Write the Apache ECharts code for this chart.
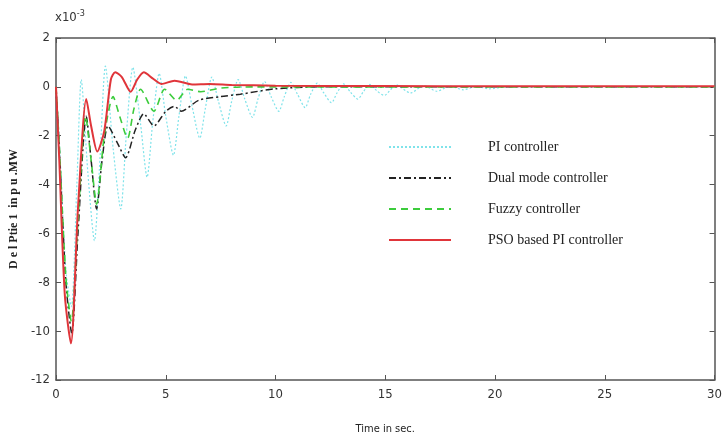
<!DOCTYPE html>
<html>
<head>
<meta charset="utf-8">
<script src="https://cdn.jsdelivr.net/npm/echarts@6/dist/echarts.min.js"></script>
<style>
html, body { margin: 0; padding: 0; background: #fff; }
#chart { width: 725px; height: 440px; }
</style>
</head>
<body>
<div id="chart"></div>
<script>
// time (s), deviation (x10^-3 p.u. MW)
var piData = [
    [0, 0], [0.15, -2.2], [0.45, -7.5], [0.7, -9.0], [0.95, -4], [1.15, 0.3], [1.45, -3.5], [1.75, -6.3],
    [2.0, -3], [2.25, 0.85], [2.6, -2.5], [2.95, -5.0], [3.2, -2], [3.5, 0.8], [3.85, -1.5], [4.15, -3.7],
    [4.4, -1.5], [4.7, 0.55], [5.0, -1.2], [5.35, -2.8], [5.6, -1.2], [5.9, 0.45], [6.2, -0.8], [6.55, -2.1],
    [6.8, -0.9], [7.1, 0.4], [7.4, -0.6], [7.75, -1.6], [8.0, -0.6], [8.3, 0.3], [8.6, -0.5], [8.95, -1.25],
    [9.2, -0.5], [9.5, 0.22], [9.8, -0.4], [10.15, -1.0], [10.4, -0.4], [10.7, 0.18], [11.0, -0.3], [11.35, -0.85],
    [11.6, -0.3], [11.9, 0.15], [12.2, -0.25], [12.55, -0.65], [12.8, -0.25], [13.1, 0.12], [13.4, -0.2], [13.75, -0.5],
    [14.0, -0.2], [14.3, 0.1], [14.6, -0.15], [14.95, -0.35], [15.5, 0.08], [16.15, -0.25], [16.75, 0.05], [17.35, -0.18],
    [17.95, 0.03], [18.55, -0.12], [19.15, 0.02], [19.75, -0.08], [20.5, 0], [30, 0]
];
var dualData = [
    [0, 0], [0.15, -2.5], [0.45, -8], [0.72, -10.1], [1.0, -6], [1.38, -1.2], [1.6, -3], [1.85, -5.0],
    [2.1, -3], [2.37, -1.6], [2.8, -2.3], [3.17, -2.9], [3.6, -1.8], [4.0, -1.1], [4.46, -1.6], [5.0, -1.0],
    [5.4, -0.8], [5.7, -1.0], [6.5, -0.55], [7.5, -0.4], [8.4, -0.3], [10, -0.08], [12, 0], [30, 0]
];
var fuzzyData = [
    [0, 0], [0.15, -2.4], [0.45, -7.8], [0.7, -9.6], [1.0, -5.5], [1.35, -1.2], [1.6, -3], [1.85, -4.8],
    [2.2, -2], [2.6, -0.4], [2.9, -1.2], [3.26, -2.1], [3.55, -0.9], [3.85, -0.1], [4.46, -1.0], [4.95, -0.1],
    [5.5, -0.55], [6.0, -0.1], [6.6, -0.2], [7.5, -0.05], [9, 0], [30, 0]
];
var psoData = [
    [0, 0], [0.15, -3], [0.4, -8.5], [0.68, -10.5], [1.0, -5], [1.38, -0.5], [1.6, -1.6], [1.88, -2.65],
    [2.2, -1.8], [2.5, 0.3], [2.7, 0.6], [3.0, 0.4], [3.4, -0.2], [3.7, 0.3], [4.0, 0.6], [4.4, 0.35],
    [4.8, 0.12], [5.4, 0.25], [6.2, 0.1], [7, 0.12], [8, 0.08], [10, 0.05], [15, 0.03], [20, 0.02], [30, 0.02]
];
var seriesNames = ['PI controller', 'Dual mode controller', 'Fuzzy controller', 'PSO based PI controller'];

var chart = echarts.init(document.getElementById('chart'));

var axisLine = { show: true, onZero: false, lineStyle: { color: '#555', width: 1.5 } };
var tickStyle = { show: true, inside: true, length: 5, lineStyle: { color: '#555' } };
var labelFont = { fontFamily: 'DejaVu Sans Condensed', fontSize: 13, color: '#333' };

function lineSeries(name, data, color, width, type) {
    return {
        name: name,
        type: 'line',
        data: data,
        showSymbol: false,
        symbol: 'none',
        smooth: 0.25,
        animation: false,
        lineStyle: { color: color, width: width, type: type },
        itemStyle: { color: color }
    };
}

var option = {
    backgroundColor: '#fff',
    animation: false,
    grid: { left: 52, right: 3, top: 38, bottom: 59 },
    graphic: [{
        type: 'text',
        left: 55,
        top: 9,
        style: {
            text: '{a|x10}{b|-3}',
            rich: {
                a: { fontFamily: 'DejaVu Sans Condensed', fontSize: 13, fill: '#333' },
                b: { fontFamily: 'DejaVu Sans Condensed', fontSize: 9, fill: '#333', verticalAlign: 'top', padding: [0, 0, 8, 0] }
            }
        }
    }],
    legend: {
        orient: 'vertical',
        left: 383,
        top: 135,
        itemWidth: 62,
        itemHeight: 14,
        itemGap: 17,
        itemStyle: { opacity: 0 },
        data: seriesNames,
        textStyle: { fontFamily: 'Liberation Serif', fontSize: 14, color: '#222', padding: [0, 0, 0, 32] }
    },
    xAxis: [{
        type: 'value',
        min: 0, max: 30, interval: 5,
        name: 'Time in sec.',
        nameLocation: 'middle',
        nameGap: 44,
        nameTextStyle: { fontFamily: 'DejaVu Sans Condensed', fontSize: 11, color: '#222' },
        axisLine: axisLine,
        axisTick: tickStyle,
        axisLabel: labelFont,
        splitLine: { show: false }
    }, {
        type: 'value',
        position: 'top',
        min: 0, max: 30, interval: 5,
        axisLine: axisLine,
        axisTick: tickStyle,
        axisLabel: { show: false },
        splitLine: { show: false }
    }],
    yAxis: [{
        type: 'value',
        min: -12, max: 2, interval: 2,
        name: 'D e l Ptie 1  in p u .MW',
        nameLocation: 'middle',
        nameGap: 31,
        nameTextStyle: { fontFamily: 'Liberation Serif', fontSize: 12, fontWeight: 'bold', color: '#222' },
        axisLine: axisLine,
        axisTick: tickStyle,
        axisLabel: Object.assign({ margin: 6 }, labelFont),
        splitLine: { show: false }
    }, {
        type: 'value',
        position: 'right',
        min: -12, max: 2, interval: 2,
        axisLine: axisLine,
        axisTick: tickStyle,
        axisLabel: { show: false },
        splitLine: { show: false }
    }],
    series: [
        lineSeries(seriesNames[0], piData, '#7fe3ea', 1.2, [2, 2]),
        lineSeries(seriesNames[1], dualData, '#222222', 1.5, [7, 3, 2, 3]),
        lineSeries(seriesNames[2], fuzzyData, '#3ccc3c', 1.6, [7, 5]),
        lineSeries(seriesNames[3], psoData, '#e0353a', 2, 'solid')
    ]
};

chart.setOption(option, true);
</script>
</body>
</html>
